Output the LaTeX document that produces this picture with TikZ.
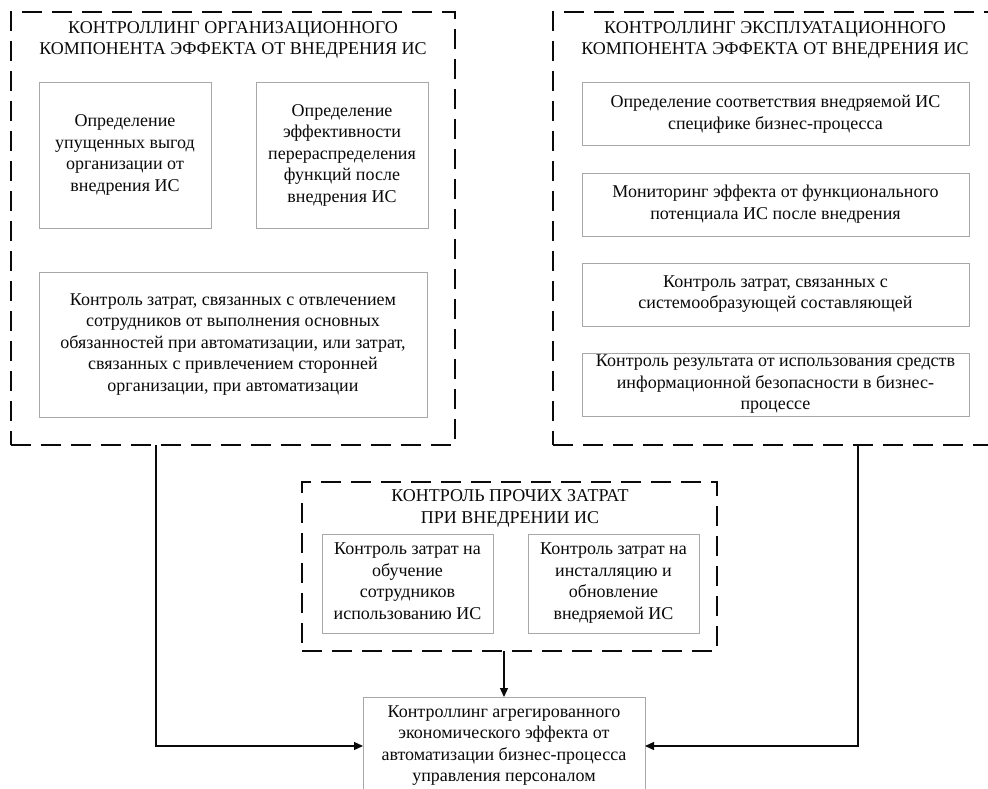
\documentclass[tikz,border=0pt]{standalone}
\usepackage{fontspec}
\setmainfont{Liberation Serif}
\usetikzlibrary{arrows.meta}
\definecolor{boxgray}{HTML}{A8A8A8}
\definecolor{ink}{HTML}{0A0A0A}
\tikzset{
  txt/.style={font=\fontsize{18pt}{21.5pt}\selectfont, text=ink, align=center, inner sep=0pt, outer sep=0pt,
    execute at begin node={\rule{0pt}{17.5pt}}, execute at end node={\rule[-4.5pt]{0pt}{4.5pt}}},
  group/.style={draw=ink, line width=1.5pt, dash pattern=on 20pt off 10pt, inner sep=0pt, outer sep=0pt},
  item/.style={txt, draw=boxgray, line width=1pt},
  conn/.style={draw=ink, line width=1.3pt, -{Triangle[length=9pt,width=8pt]}},
}
\begin{document}
\begin{tikzpicture}[x=1pt,y=-1pt]
\useasboundingbox (0,0) rectangle (988,789);
\fill[white] (0,0) rectangle (988,789);
\begin{scope}
\clip (0,0) rectangle (988,789);
% left group
\node[group, minimum width=444pt, minimum height=433pt] (L) at (233,228.5) {};
\node[txt] (Lt) at (233,40.5) {КОНТРОЛЛИНГ ОРГАНИЗАЦИОННОГО\\КОМПОНЕНТА ЭФФЕКТА ОТ ВНЕДРЕНИЯ ИС};
\node[item, minimum width=172pt, minimum height=145pt] (L1) at (125,155.5) {Определение\\упущенных выгод\\организации от\\внедрения ИС};
\node[item, minimum width=172pt, minimum height=145pt] (L2) at (342,155.5) {Определение\\эффективности\\перераспределения\\функций после\\внедрения ИС};
\node[item, minimum width=388pt, minimum height=145pt] (L3) at (233,344.5) {Контроль затрат, связанных с отвлечением\\сотрудников от выполнения основных\\обязанностей при автоматизации, или затрат,\\связанных с привлечением сторонней\\организации, при автоматизации};
% right group
\node[group, minimum width=444pt, minimum height=433pt] (R) at (775,228.5) {};
\node[txt] (Rt) at (775,40.5) {КОНТРОЛЛИНГ ЭКСПЛУАТАЦИОННОГО\\КОМПОНЕНТА ЭФФЕКТА ОТ ВНЕДРЕНИЯ ИС};
\node[item, minimum width=387pt, minimum height=63pt] (R1) at (775.5,114.5) {Определение соответствия внедряемой ИС\\специфике бизнес-процесса};
\node[item, minimum width=387pt, minimum height=63pt] (R2) at (775.5,204.5) {Мониторинг эффекта от функционального\\потенциала ИС после внедрения};
\node[item, minimum width=387pt, minimum height=63pt] (R3) at (775.5,294.5) {Контроль затрат, связанных с\\системообразующей составляющей};
\node[item, minimum width=387pt, minimum height=63pt] (R4) at (775.5,384.5) {Контроль результата от использования средств\\информационной безопасности в бизнес-\\процессе};
% middle group
\node[group, minimum width=415pt, minimum height=169pt] (M) at (509.5,566.5) {};
\node[txt] (Mt) at (510,509) {КОНТРОЛЬ ПРОЧИХ ЗАТРАТ\\ПРИ ВНЕДРЕНИИ ИС};
\node[item, minimum width=171pt, minimum height=99pt] (M1) at (407.5,583.5) {Контроль затрат на\\обучение\\сотрудников\\использованию ИС};
\node[item, minimum width=171pt, minimum height=99pt] (M2) at (613.5,583.5) {Контроль затрат на\\инсталляцию и\\обновление\\внедряемой ИС};
% bottom
\node[item, minimum width=282pt, minimum height=98pt] (B) at (504,746) {Контроллинг агрегированного\\экономического эффекта от\\автоматизации бизнес-процесса\\управления персоналом};
% connectors
\draw[conn] ([xshift=145pt]L.south west) |- (B.west);
\draw[conn] ([xshift=305pt]R.south west) |- (B.east);
\draw[conn] (M.south -| B.north) -- (B.north);
\end{scope}
\end{tikzpicture}
\end{document}
